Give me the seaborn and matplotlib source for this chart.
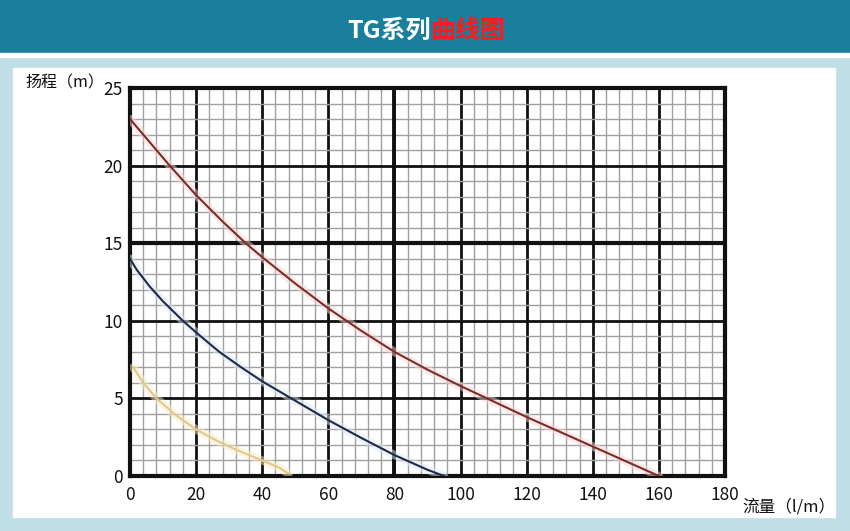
import matplotlib
matplotlib.use("Agg")
import matplotlib.pyplot as plt
from matplotlib.patches import Rectangle
from matplotlib.ticker import MultipleLocator
import seaborn as sns
import pandas as pd

# ---- data ----
red_q = [0, 5, 12, 20, 28, 35, 40, 50, 60, 70, 80, 90, 100, 110, 120, 130, 140, 150, 160]
red_h = [23.0, 21.75, 20.0, 18.1, 16.4, 15.0, 14.1, 12.4, 10.8, 9.35, 8.0, 6.85, 5.8, 4.8, 3.8, 2.85, 1.9, 0.95, 0.0]
blue_q = [0, 2, 6, 10, 16, 20, 27, 34, 40, 50, 60, 70, 80, 90, 95]
blue_h = [14.0, 13.3, 12.2, 11.25, 10.0, 9.25, 8.0, 6.95, 6.1, 4.85, 3.6, 2.45, 1.35, 0.4, 0.0]
yellow_q = [1, 4, 8, 14, 20, 26, 32, 40, 45, 48]
yellow_h = [7.0, 6.0, 5.0, 3.9, 3.0, 2.3, 1.7, 1.0, 0.55, 0.15]

x_ticks = [0, 20, 40, 60, 80, 100, 120, 140, 160, 180]
y_ticks = [0, 5, 10, 15, 20, 25]
title_a = "TG系列"
title_b = "曲线图"
y_label = "扬程（m）"
x_label = "流量（l/m）"

sns.set_style("white")
plt.rcParams['font.family'] = ['Noto Sans CJK SC', 'DejaVu Sans']

W, H = 850, 531
fig = plt.figure(figsize=(W / 100, H / 100), dpi=100)

def fx(px):
    return px / W

def fy(py):
    return 1 - py / H

# background
fig.patches.append(Rectangle((0, 0), 1, 1, transform=fig.transFigure,
                             color="#bfdee6", zorder=-10))
fig.patches.append(Rectangle((0, fy(53)), 1, 53 / H, transform=fig.transFigure,
                             color="#1a7f9c", zorder=-9))
fig.patches.append(Rectangle((0, fy(57)), 1, 4 / H, transform=fig.transFigure,
                             color="#ffffff", zorder=-9))
fig.patches.append(Rectangle((fx(13), fy(517)), (835 - 13) / W, (517 - 68) / H,
                             transform=fig.transFigure, color="#ffffff", zorder=-9))

# title
fig.text(fx(431), fy(31), title_a, color="white", fontsize=18, fontweight="bold",
         ha="right", va="center")
fig.text(fx(431), fy(31), title_b, color="#ff1a1a", fontsize=18, fontweight="bold",
         ha="left", va="center")

ax = fig.add_axes([fx(130), fy(476), (725 - 130) / W, (476 - 88) / H])
ax.set_facecolor("white")

df = pd.concat([
    pd.DataFrame({"q": red_q, "h": red_h, "s": "red"}),
    pd.DataFrame({"q": blue_q, "h": blue_h, "s": "blue"}),
    pd.DataFrame({"q": yellow_q, "h": yellow_h, "s": "yellow"}),
])
# soft halos
sns.lineplot(data=df, x="q", y="h", hue="s", sort=False, estimator=None,
             palette={"red": "#f6d8d3", "blue": "#dce9f5", "yellow": "#f8ecc8"},
             linewidth=6, alpha=0.5, legend=False, ax=ax, zorder=3)
sns.lineplot(data=df, x="q", y="h", hue="s", sort=False, estimator=None,
             palette={"red": "#7a2e2c", "blue": "#1f2b45", "yellow": "#e0c98e"},
             linewidth=1.5, legend=False, ax=ax, zorder=4)

ax.set_xlim(0, 180)
ax.set_ylim(0, 25)
ax.set_xticks(x_ticks)
ax.set_yticks(y_ticks)
ax.xaxis.set_minor_locator(MultipleLocator(4))
ax.yaxis.set_minor_locator(MultipleLocator(1))
ax.grid(which="minor", color="#a0a0a0", linewidth=1.0, zorder=1)
ax.grid(which="major", color="#111111", linewidth=2.0, zorder=2)
ax.set_axisbelow(True)
ax.axhline(15, color="#111111", linewidth=3.0, zorder=2)
ax.axvline(80, color="#111111", linewidth=2.8, zorder=2)
for s in ax.spines.values():
    s.set_visible(True)
    s.set_color("#111111")
    s.set_linewidth(3)
ax.tick_params(which="both", length=0)
ax.tick_params(axis="x", pad=7, labelsize=12.5, colors="#111111")
ax.tick_params(axis="y", pad=5, labelsize=12.5, colors="#111111")
ax.set_xlabel("")
ax.set_ylabel("")

fig.text(fx(25), fy(83), y_label, fontsize=11.5, color="#111111", ha="left", va="center")
fig.text(fx(742), fy(507), x_label, fontsize=12, color="#111111", ha="left", va="center")

fig.savefig("out.png", dpi=100)
